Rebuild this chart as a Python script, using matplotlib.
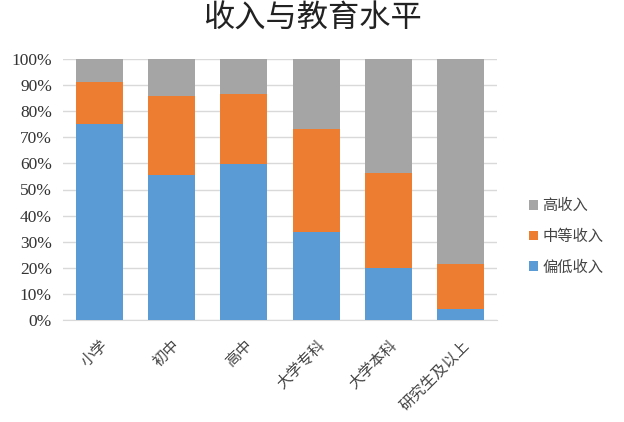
import matplotlib
matplotlib.use("Agg")
import matplotlib.pyplot as plt
from matplotlib.ticker import PercentFormatter

categories = ["小学", "初中", "高中", "大学专科", "大学本科", "研究生及以上"]
low = [75.0, 55.6, 59.7, 33.8, 19.8, 4.1]
mid = [16.3, 30.2, 26.8, 39.2, 36.6, 17.2]
high = [100 - a - b for a, b in zip(low, mid)]
series_names = ["偏低收入", "中等收入", "高收入"]
colors = ["#5B9BD5", "#ED7D31", "#A5A5A5"]

plt.rcParams['font.family'] = ['Noto Sans CJK SC', 'DejaVu Sans']

fig = plt.figure(figsize=(6.24, 4.22), dpi=100)
ax = fig.add_axes([63/624, 1 - 320/422, (497-63)/624, (320-59)/422])

x = range(len(categories))
w = 0.65
ax.bar(x, low, w, color=colors[0], label=series_names[0], zorder=3)
ax.bar(x, mid, w, bottom=low, color=colors[1], label=series_names[1], zorder=3)
bottom2 = [a + b for a, b in zip(low, mid)]
ax.bar(x, high, w, bottom=bottom2, color=colors[2], label=series_names[2], zorder=3)

ax.set_xlim(-0.5, len(categories) - 0.5)
ax.set_ylim(0, 100)
ax.set_yticks(range(0, 101, 10))
ax.yaxis.set_major_formatter(PercentFormatter(decimals=0))
for lbl in ax.get_yticklabels():
    lbl.set_fontfamily('Liberation Serif')
    lbl.set_fontsize(12.5)
    lbl.set_color('#333333')
ax.grid(axis='y', color='#d9d9d9', linewidth=1, zorder=0)
ax.set_xticks(list(x))
ax.set_xticklabels(categories, rotation=45, ha='right', rotation_mode='anchor',
                   fontsize=11, color='#444444')
ax.tick_params(axis='y', length=0, pad=8)
ax.tick_params(axis='x', length=0, pad=12)
for s in ['top', 'right', 'left']:
    ax.spines[s].set_visible(False)
ax.spines['bottom'].set_color('#d9d9d9')

fig.text(0.5, 1 - 18.5/422, "收入与教育水平", fontsize=22.5, ha='center', va='center',
         color='#222222')

handles, labels = ax.get_legend_handles_labels()
fig.legend(handles[::-1], labels[::-1], loc='center left', bbox_to_anchor=(0.825, 0.44),
           frameon=False, fontsize=11, handlelength=0.6, handleheight=0.6,
           handletextpad=0.3, labelspacing=0.9, labelcolor='#444444')

fig.savefig("out.png", dpi=100)
